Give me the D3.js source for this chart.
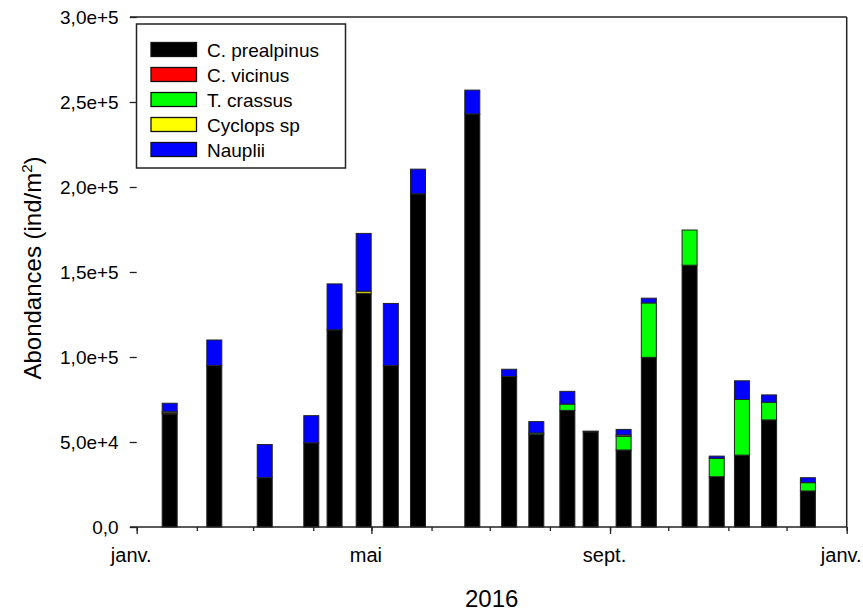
<!DOCTYPE html>
<html>
<head>
<meta charset="utf-8">
<script src="https://cdn.jsdelivr.net/npm/d3@7"></script>
<style>
  html, body { margin: 0; padding: 0; background: #fff; }
  svg { display: block; font-family: "Liberation Sans", Arial, sans-serif; }
</style>
</head>
<body>
<svg id="chart" width="863" height="614"></svg>
<script>
// ---- data ----
const dates = ["2016-01-18","2016-02-10","2016-03-07","2016-03-31","2016-04-12","2016-04-27",
               "2016-05-11","2016-05-25","2016-06-22","2016-07-11","2016-07-25","2016-08-10",
               "2016-08-22","2016-09-08","2016-09-21","2016-10-12","2016-10-26","2016-11-08",
               "2016-11-22","2016-12-12"];
const seriesNames = ["C. prealpinus", "C. vicinus", "T. crassus", "Cyclops sp", "Nauplii"];
const cPrealpinus = [66500, 95000, 29000, 49500, 116000, 137500, 95000, 196000, 243000, 88500,
                     54500, 68600, 56000, 45300, 99800, 154000, 29600, 42300, 63000, 21200];
const cVicinus    = [600, 0, 0, 0, 0, 0, 0, 0, 0, 0, 0, 0, 0, 0, 0, 0, 0, 0, 0, 0];
const tCrassus    = [0, 0, 0, 0, 0, 0, 0, 0, 0, 0, 800, 3700, 0, 8000, 32000, 20700, 10800, 32700, 10400, 4900];
const cyclopsSp   = [700, 0, 0, 0, 0, 1200, 0, 0, 0, 0, 0, 0, 0, 800, 0, 0, 0, 0, 0, 0];
const nauplii     = [5000, 15000, 19500, 16000, 27000, 34000, 36500, 14500, 14000, 4300,
                     6700, 7500, 400, 3300, 2800, 0, 1300, 11000, 4300, 2900];
const yTicks = [0, 50000, 100000, 150000, 200000, 250000, 300000];
const yTickLabels = ["0,0", "5,0e+4", "1,0e+5", "1,5e+5", "2,0e+5", "2,5e+5", "3,0e+5"];
const xMajorLabels = ["janv.", "mai", "sept.", "janv."];
const xTitle = "2016";
const yTitle = "Abondances (ind/m";

// ---- styles / layout ----
const colors = ["#000000", "#ff0000", "#00ff00", "#ffff00", "#0000ff"];
const svg = d3.select("#chart");
const pLeft = 136.7, pRight = 846.7, pTop = 17, pBottom = 527;
const frameLeft = 130;
const barW = 15;

const parse = d3.utcParse("%Y-%m-%d");
const x = d3.scaleUtc()
  .domain([new Date(Date.UTC(2016, 0, 1)), new Date(Date.UTC(2017, 0, 1))])
  .range([pLeft, pRight]);
const y = d3.scaleLinear().domain([0, 300000]).range([pBottom, pTop]);

const seriesArrays = [cPrealpinus, cVicinus, tCrassus, cyclopsSp, nauplii];
const table = dates.map((d, i) => {
  const row = { date: parse(d) };
  seriesNames.forEach((s, k) => row[s] = seriesArrays[k][i]);
  return row;
});
const stack = d3.stack().keys(seriesNames)(table);

// bars
const g = svg.append("g");
stack.forEach((layer, k) => {
  g.selectAll(null).data(layer.filter(d => d[1] - d[0] > 0)).enter().append("rect")
    .attr("x", d => x(d.data.date) - barW / 2)
    .attr("width", barW)
    .attr("y", d => y(d[1]))
    .attr("height", d => y(d[0]) - y(d[1]))
    .attr("fill", colors[k])
    .attr("stroke", "#222")
    .attr("stroke-width", 1);
});

// frame: top and right lines
svg.append("line").attr("x1", frameLeft).attr("x2", pRight).attr("y1", pTop).attr("y2", pTop)
  .attr("stroke", "#222").attr("stroke-width", 1.5);
svg.append("line").attr("x1", pRight).attr("x2", pRight).attr("y1", pTop).attr("y2", pBottom)
  .attr("stroke", "#222").attr("stroke-width", 1.5);

// x axis
svg.append("line").attr("x1", frameLeft).attr("x2", pRight).attr("y1", pBottom).attr("y2", pBottom)
  .attr("stroke", "#222").attr("stroke-width", 1.5);
const monthTicks = d3.utcMonth.range(x.domain()[0], d3.utcDay.offset(x.domain()[1], 1));
const majorTicks = d3.utcMonth.every(4).range(x.domain()[0], d3.utcDay.offset(x.domain()[1], 1));
const xAxisMinor = d3.axisBottom(x).tickValues(monthTicks).tickSize(4).tickFormat("");
const xAxisMajor = d3.axisBottom(x).tickValues(majorTicks).tickSize(7)
  .tickFormat((d, i) => xMajorLabels[i]);
const gxMin = svg.append("g").attr("transform", `translate(0,${pBottom})`).call(xAxisMinor);
const gxMaj = svg.append("g").attr("transform", `translate(0,${pBottom})`).call(xAxisMajor);
[gxMin, gxMaj].forEach(gg => {
  gg.select(".domain").remove();
  gg.selectAll(".tick line").attr("stroke", "#222").attr("stroke-width", 1.3);
});
gxMaj.selectAll(".tick text")
  .attr("font-size", 20).attr("fill", "#000").attr("y", 0).attr("dy", 35).attr("dx", -6)
  .attr("font-family", "Liberation Sans, Arial, sans-serif");

// y axis
const yAxis = d3.axisLeft(y).tickValues(yTicks).tickSize(7).tickPadding(11)
  .tickFormat((d, i) => yTickLabels[i]);
const gy = svg.append("g").attr("transform", `translate(${pLeft},0)`).call(yAxis);
gy.select(".domain").remove();
gy.selectAll(".tick line").attr("stroke", "#222").attr("stroke-width", 1.3);
gy.selectAll(".tick text").attr("font-size", 19).attr("fill", "#000")
  .attr("font-family", "Liberation Sans, Arial, sans-serif");

// axis titles
svg.append("text").attr("x", (pLeft + pRight) / 2 + 0).attr("y", 607)
  .attr("text-anchor", "middle").attr("font-size", 24).text(xTitle);
const yt = svg.append("text").attr("transform", "translate(41,268) rotate(-90)")
  .attr("text-anchor", "middle").attr("font-size", 24);
yt.append("tspan").text(yTitle);
yt.append("tspan").attr("font-size", 15).attr("dy", -9).text("2");
yt.append("tspan").attr("dy", 9).text(")");

// legend
const lg = svg.append("g");
lg.append("rect").attr("x", 136.5).attr("y", 24).attr("width", 209).attr("height", 144)
  .attr("fill", "#fff").attr("stroke", "#222").attr("stroke-width", 1.5);
seriesNames.forEach((s, k) => {
  const yy = 42.5 + k * 25;
  lg.append("rect").attr("x", 151).attr("y", yy).attr("width", 45.5).attr("height", 14)
    .attr("fill", colors[k]).attr("stroke", "#111").attr("stroke-width", 1.3);
  lg.append("text").attr("x", 207).attr("y", yy + 14.5).attr("font-size", 19).text(s);
});
</script>
</body>
</html>
